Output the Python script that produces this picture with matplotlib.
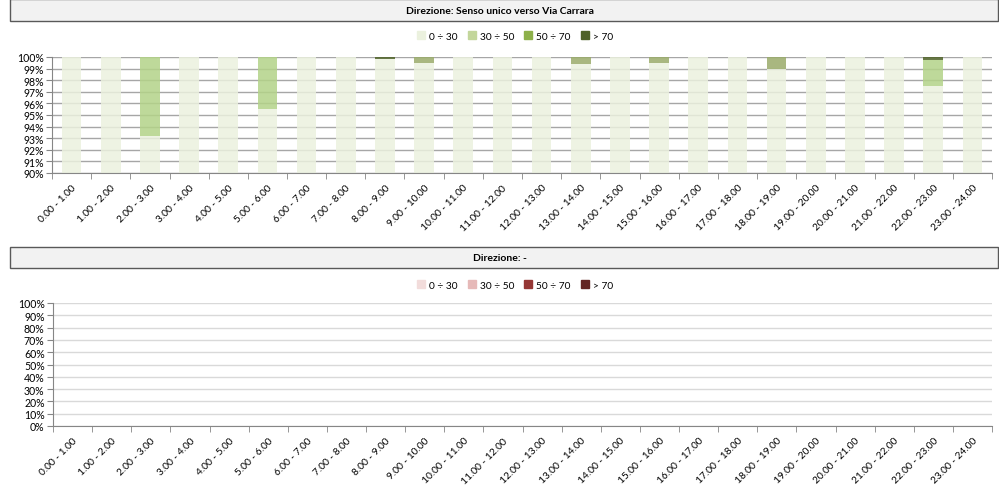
import numpy as np
import matplotlib
matplotlib.use("Agg")
import matplotlib.pyplot as plt
from matplotlib.patches import Rectangle, Patch
from matplotlib.ticker import FixedLocator, PercentFormatter

plt.rcParams['font.family'] = ['Lato', 'DejaVu Sans']

# fasce orarie
hours = ["%d.00 - %d.00" % (h, h + 1) for h in range(24)]

# classi di velocita (km/h)
classes = ["0 ÷ 30", "30 ÷ 50", "50 ÷ 70", "> 70"]

# quote percentuali - Senso unico verso Via Carrara
v0_30 = [100, 100, 93.2, 100, 100, 95.5, 100, 100, 99.8, 99.5, 100, 100,
         100, 99.4, 100, 99.5, 100, 100, 99.0, 100, 100, 100, 97.5, 100]
v30_50 = [0, 0, 6.8, 0, 0, 4.5, 0, 0, 0, 0, 0, 0,
          0, 0, 0, 0, 0, 0, 0, 0, 0, 0, 2.2, 0]
v50_70 = [0, 0, 0, 0, 0, 0, 0, 0, 0, 0.5, 0, 0,
          0, 0.6, 0, 0.5, 0, 0, 1.0, 0, 0, 0, 0, 0]
v70 = [0, 0, 0, 0, 0, 0, 0, 0, 0.2, 0, 0, 0,
       0, 0, 0, 0, 0, 0, 0, 0, 0, 0, 0.3, 0]

# direzione "-" : nessun dato
empty = [0] * 24

greens = ["#ebf1de", "#b3d388", "#9aab6a", "#4f6228"]
legend_greens = ["#ebf1de", "#c3d69b", "#8db04a", "#4f6228"]
reds = ["#f2dcdb", "#e6b9b8", "#953735", "#632523"]

W, H = 999, 489
fig = plt.figure(figsize=(W / 100, H / 100), dpi=100)


def fx(px):
    return px / W


def fy(py):
    return 1 - py / H


def header(y0, y1, text):
    r = Rectangle((fx(10), fy(y1)), fx(998) - fx(10), fy(y0) - fy(y1),
                  transform=fig.transFigure, facecolor="#f2f2f2",
                  edgecolor="#595959", linewidth=1.0)
    fig.add_artist(r)
    fig.text(0.5, fy((y0 + y1) / 2), text, ha="center", va="center",
             fontsize=7.5, fontweight="bold", color="#000000")


def style_axis(ax, ymin, ymax, ystep, gridcol):
    x = np.arange(24)
    ax.set_xlim(-0.5, 23.5)
    ax.set_ylim(ymin, ymax)
    ax.set_xticks(x)
    ax.set_xticklabels(hours, rotation=45, ha="right", rotation_mode="anchor",
                       fontsize=7.3)
    ax.xaxis.set_minor_locator(FixedLocator(np.arange(-0.5, 24, 1)))
    ax.tick_params(axis="x", which="major", length=0, pad=7)
    ax.tick_params(axis="x", which="minor", length=4, color="#868686")
    ax.set_yticks(np.arange(ymin, ymax + 0.01, ystep))
    ax.yaxis.set_major_formatter(PercentFormatter(decimals=0))
    ax.tick_params(axis="y", length=4, color="#868686", labelsize=7.6, pad=2)
    ax.grid(axis="y", color=gridcol, linewidth=1.0)
    ax.set_axisbelow(True)
    for s in ["top", "right"]:
        ax.spines[s].set_visible(False)
    ax.spines["left"].set_color("#868686")
    ax.spines["bottom"].set_color("#868686")


# --- grafico superiore ---
header(0, 22, "Direzione: Senso unico verso Via Carrara")
ax1 = fig.add_axes([fx(52), fy(174), fx(992) - fx(52), fy(58) - fy(174)])
style_axis(ax1, 90, 100, 1, "#a6a6a6")
x = np.arange(24)
bottom = np.zeros(24)
for vals, c in zip([v0_30, v30_50, v50_70, v70], greens):
    ax1.bar(x, vals, bottom=bottom, width=0.5, color=c, alpha=0.85, zorder=2)
    bottom += np.array(vals)
fig.legend(handles=[Patch(color=c) for c in legend_greens], labels=classes,
           loc="center", bbox_to_anchor=(fx(515), fy(37)), ncol=4,
           frameon=False, fontsize=7.3, handlelength=0.8, handleheight=0.8,
           handletextpad=0.4, columnspacing=1.0)

# --- grafico inferiore ---
header(248, 269, "Direzione: -")
ax2 = fig.add_axes([fx(53), fy(427), fx(992) - fx(53), fy(304) - fy(427)])
style_axis(ax2, 0, 100, 10, "#d9d9d9")
bottom = np.zeros(24)
for c in reds:
    ax2.bar(x, empty, bottom=bottom, width=0.5, color=c)
fig.legend(handles=[Patch(color=c) for c in reds], labels=classes,
           loc="center", bbox_to_anchor=(fx(515), fy(286)), ncol=4,
           frameon=False, fontsize=7.3, handlelength=0.8, handleheight=0.8,
           handletextpad=0.4, columnspacing=1.0)

fig.savefig("out.png", dpi=100)
